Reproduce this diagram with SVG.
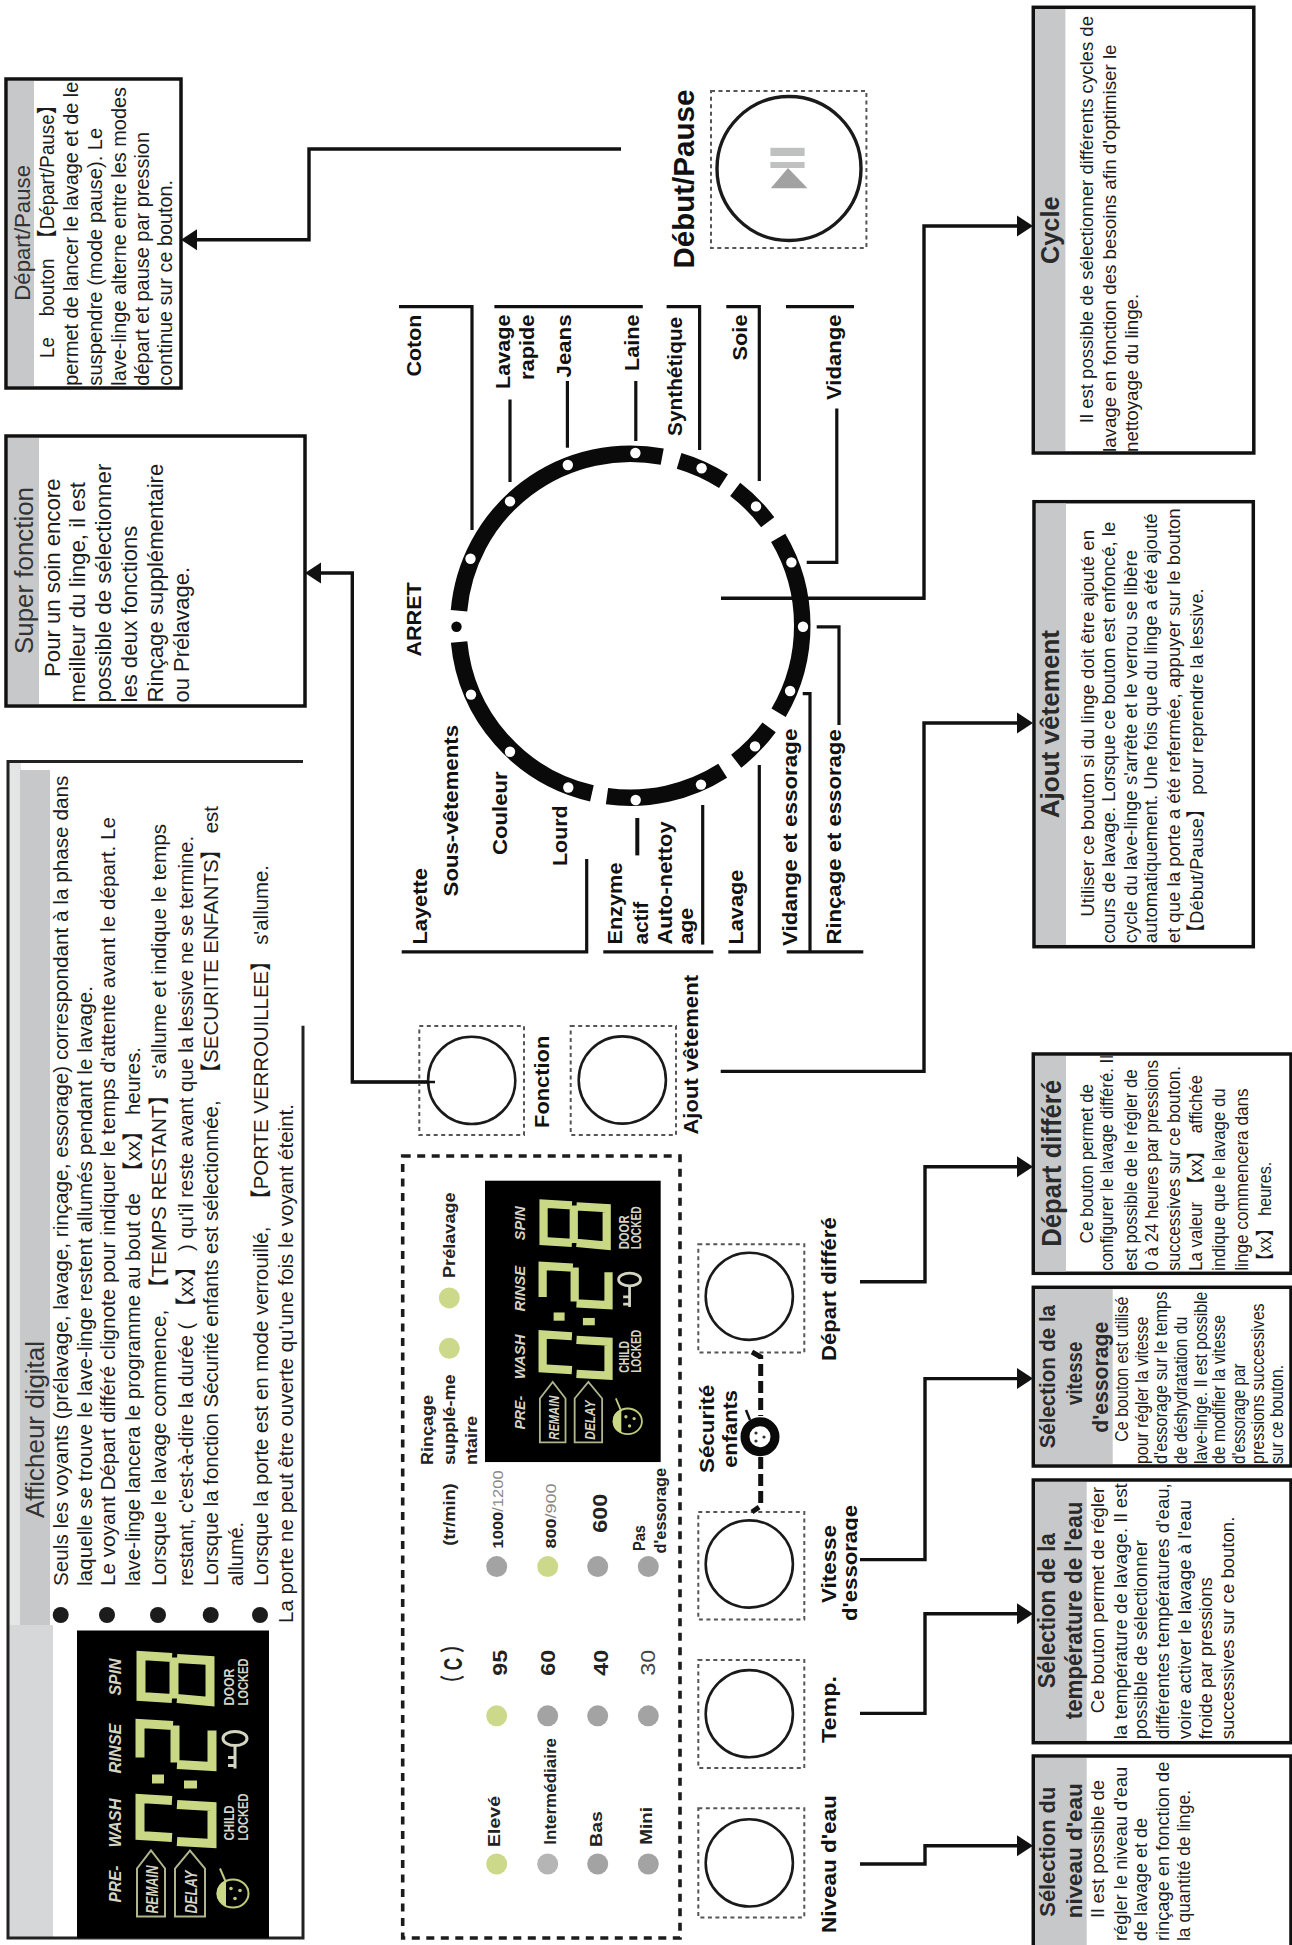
<svg xmlns="http://www.w3.org/2000/svg" width="1292" height="1945" viewBox="0 0 1292 1945">
<style>
text{font-family:"Liberation Sans","Noto Sans CJK SC",sans-serif;fill:#1c1c1c}
.box{fill:#fff;stroke:#111;stroke-width:3.5}
.hd{fill:#c6c8ca}
.ttl{font-weight:700;font-size:26px;fill:#2a2a2a}
.reg{font-size:26px;fill:#333}
.lb{font-weight:700;font-size:21px;fill:#111}
.pl{font-weight:700;font-size:17px;fill:#222}
.bt{fill:none;stroke:#555;stroke-width:2;stroke-dasharray:4 3.5}
.ci{fill:#fff;stroke:#1a1a1a;stroke-width:2.6}
.ring{fill:none;stroke:#0a0a0a;stroke-width:16.5}
.dot{fill:#fff}
.ln{fill:none;stroke:#111;stroke-width:3.2}
.ar{fill:none;stroke:#111;stroke-width:3.4;marker-end:url(#ah)}
.g{fill:#cdd98a}
.o{fill:#a3a3a3}
.seg{fill:none;stroke:#c9d885;stroke-width:9}
.lc{fill:#d4d4c6;font-style:italic;font-weight:700;font-size:17px}
.lo{fill:#d4d4c6;font-size:15px;font-weight:700}
</style>
<defs>
<clipPath id="cut"><rect x="840" y="1490" width="18" height="140"/></clipPath>
<marker id="ah" markerUnits="userSpaceOnUse" markerWidth="18" markerHeight="24" refX="11" refY="12" orient="auto"><path d="M0 1.5L16 12L0 22.500z" fill="#111"/></marker>
<g id="lcd-art">
<path d="M95 27L64 25V66L95 68M97 27V68M100 28L133 30V71L100 68M63 127V93L96 95M98 95V132M100 134L135 136V100M95 170L63 168V205L95 207M100 174L135 176V213L100 211" class="seg"/>
<rect x="75" y="144" width="12" height="9" fill="#c9d885"/><rect x="107" y="150" width="13" height="8" fill="#c9d885"/>
<path d="M60 286V238L74 220L88 238V286ZM98 286V238L113 220L128 238V286Z" fill="none" stroke="#aeb68a" stroke-width="2"/>
<ellipse cx="158" cy="108" rx="12" ry="7" fill="none" stroke="#d4d4c0" stroke-width="3"/>
<path d="M158 115V138M151 127H158M151 135H158" fill="none" stroke="#d4d4c0" stroke-width="3"/>
<ellipse cx="156" cy="263" rx="15.500" ry="14" fill="#000" stroke="#bfcb7a" stroke-width="2"/>
<path d="M149 250A15 14 0 0 0 149 276Z" fill="#c9d885"/>
<path d="M143 238L149 252" stroke="#bfcb7a" stroke-width="2"/>
<circle cx="154" cy="258" r="1.800" fill="#bfcb7a"/><circle cx="163" cy="260" r="1.800" fill="#bfcb7a"/><circle cx="158" cy="268" r="1.800" fill="#bfcb7a"/>
</g>
</defs>
<rect width="1292" height="1945" fill="#fff"/>

<g id="connectors">
<path class="ar" d="M621 149H309V239.700H186"/>
<path class="ar" d="M435 1082H352.300V573H310"/>
<path class="ar" d="M721 598.300H924V226H1028"/>
<path class="ar" d="M720.700 1071.400H924V723H1028"/>
<path class="ar" d="M860 1281.700H925V1166.700H1028"/>
<path class="ar" d="M860 1559.600H925V1378.600H1028"/>
<path class="ar" d="M860 1713.400H925V1613.800H1028"/>
<path class="ar" d="M860 1864H925V1845.800H1028"/>
<path class="ln" d="M399 306.700H472V530"/>
<path class="ln" d="M494.400 306.700H642.800"/>
<path class="ln" d="M510 399.500V482"/>
<path class="ln" d="M567.400 381V447.700"/>
<path class="ln" d="M635.800 381V441"/>
<path class="ln" d="M666.600 306.700H699.600V450"/>
<path class="ln" d="M726.300 306.700H759.300V481"/>
<path class="ln" d="M786 306.700H854"/>
<path class="ln" d="M836.800 408.600V562.400H806.700"/>
<path class="ln" d="M816.700 626.800H839V725"/>
<path class="ln" d="M802.700 693.600H810V951.800"/>
<path class="ln" d="M786.700 951.800H863.300"/>
<path class="ln" d="M759.300 765V951.800H728.300"/>
<path class="ln" d="M603.300 951.800H713.300"/>
<path class="ln" d="M702.700 805V944.600"/>
<path class="ln" style="stroke-width:4" d="M637.300 818V855.400"/>
<path class="ln" d="M586.700 859V951.800H401.700"/>
</g>

<g id="box-depart-pause">
<rect class="box" x="6" y="79" width="175" height="309"/>
<rect class="hd" x="8" y="81" width="26" height="305"/>
<text class="reg" style="font-size:22px" transform="translate(30 300.700) rotate(-90)" textLength="135.700" lengthAdjust="spacingAndGlyphs">Départ/Pause</text>
<g style="font-size:20.500px">
<text transform="translate(53.500 358) rotate(-90)" textLength="262.500" lengthAdjust="spacingAndGlyphs">Le&#160;&#160;&#160;&#160;bouton&#160;&#160;【Départ/Pause】</text>
<text transform="translate(78.300 385.700) rotate(-90)" textLength="304" lengthAdjust="spacingAndGlyphs">permet de lancer le lavage et de le</text>
<text transform="translate(102 385.700) rotate(-90)" textLength="258" lengthAdjust="spacingAndGlyphs">suspendre (mode pause). Le</text>
<text transform="translate(125.700 385.700) rotate(-90)" textLength="298.700" lengthAdjust="spacingAndGlyphs">lave-linge alterne entre les modes</text>
<text transform="translate(149 385.700) rotate(-90)" textLength="253.700" lengthAdjust="spacingAndGlyphs">départ et pause par pression</text>
<text transform="translate(172 385.700) rotate(-90)" textLength="205.700" lengthAdjust="spacingAndGlyphs">continue sur ce bouton.</text>
</g>
</g>

<g id="box-super-fonction">
<rect class="box" x="6" y="436" width="299" height="270"/>
<rect class="hd" x="8" y="438" width="31" height="266"/>
<text class="reg" transform="translate(33 654) rotate(-90)" textLength="167" lengthAdjust="spacingAndGlyphs">Super fonction</text>
<g style="font-size:22px">
<text transform="translate(59.700 677) rotate(-90)" textLength="198.500" lengthAdjust="spacingAndGlyphs">Pour un soin encore</text>
<text transform="translate(85 702.500) rotate(-90)" textLength="220.500" lengthAdjust="spacingAndGlyphs">meilleur du linge, il est</text>
<text transform="translate(111 702.500) rotate(-90)" textLength="238.800" lengthAdjust="spacingAndGlyphs">possible de sélectionner</text>
<text transform="translate(137 702.500) rotate(-90)" textLength="176.800" lengthAdjust="spacingAndGlyphs">les deux fonctions</text>
<text transform="translate(163 702.500) rotate(-90)" textLength="238.800" lengthAdjust="spacingAndGlyphs">Rinçage supplémentaire</text>
<text transform="translate(188.700 702.500) rotate(-90)" textLength="135.500" lengthAdjust="spacingAndGlyphs">ou Prélavage.</text>
</g>
</g>

<g id="box-afficheur">
<rect x="8" y="762" width="13" height="863" fill="#e4e5e5"/>
<rect class="hd" x="20" y="770" width="30" height="855"/>
<rect x="8" y="1625" width="45" height="313" fill="#d6d7d8"/>
<path d="M303 1025.700V1938H8V761.400H303" fill="none" stroke="#222" stroke-width="3"/>
<text class="reg" transform="translate(44 1518) rotate(-90)" textLength="177" lengthAdjust="spacingAndGlyphs">Afficheur digital</text>
<g fill="#1c1c1c"><ellipse cx="60.700" cy="1615" rx="8" ry="8"/><ellipse cx="107" cy="1615" rx="8" ry="8"/><ellipse cx="158" cy="1615" rx="8" ry="8"/><ellipse cx="210.700" cy="1615" rx="8" ry="8"/><ellipse cx="260" cy="1615" rx="8" ry="8"/></g>
<g style="font-size:21px">
<text transform="translate(68.300 1586) rotate(-90)" textLength="810.300" lengthAdjust="spacingAndGlyphs">Seuls les voyants (prélavage, lavage, rinçage, essorage) correspondant à la phase dans</text>
<text transform="translate(91.700 1586) rotate(-90)" textLength="600" lengthAdjust="spacingAndGlyphs">laquelle se trouve le lave-linge restent allumés pendant le lavage.</text>
<text transform="translate(115 1586) rotate(-90)" textLength="769" lengthAdjust="spacingAndGlyphs">Le voyant Départ différé clignote pour indiquer le temps d'attente avant le départ. Le</text>
<text transform="translate(140 1586) rotate(-90)" textLength="539" lengthAdjust="spacingAndGlyphs">lave-linge lancera le programme au bout de&#160;&#160;【xx】 heures.</text>
<text transform="translate(165.700 1586) rotate(-90)" textLength="762" lengthAdjust="spacingAndGlyphs">Lorsque le lavage commence,&#160;&#160;【TEMPS RESTANT】 s'allume et indique le temps</text>
<text transform="translate(193 1586) rotate(-90)" textLength="750" lengthAdjust="spacingAndGlyphs">restant, c'est-à-dire la durée ( 【xx】 ) qu'il reste avant que la lessive ne se termine.</text>
<text transform="translate(218 1586) rotate(-90)" textLength="780" lengthAdjust="spacingAndGlyphs">Lorsque la fonction Sécurité enfants est sélectionnée,&#160;&#160;&#160;【SECURITE ENFANTS】 est</text>
<text transform="translate(243 1586) rotate(-90)" textLength="64" lengthAdjust="spacingAndGlyphs">allumé.</text>
<text transform="translate(267.700 1586) rotate(-90)" textLength="721" lengthAdjust="spacingAndGlyphs">Lorsque la porte est en mode verrouillé,&#160;&#160;&#160;【PORTE VERROUILLEE】 s'allume.</text>
<text transform="translate(292.700 1623) rotate(-90)" textLength="519" lengthAdjust="spacingAndGlyphs">La porte ne peut être ouverte qu'une fois le voyant éteint.</text>
</g>
<g id="lcd-a" transform="translate(77 1630.500)">
<rect width="192" height="307.500" fill="#000"/>
<use href="#lcd-art"/>
<text class="lc" transform="translate(44 65) rotate(-90)" textLength="37" lengthAdjust="spacingAndGlyphs">SPIN</text>
<text class="lc" transform="translate(44 143) rotate(-90)" textLength="50" lengthAdjust="spacingAndGlyphs">RINSE</text>
<text class="lc" transform="translate(44 217) rotate(-90)" textLength="49" lengthAdjust="spacingAndGlyphs">WASH</text>
<text class="lc" transform="translate(44 272) rotate(-90)" textLength="37" lengthAdjust="spacingAndGlyphs">PRE-</text>
<text class="lc" transform="translate(81 283) rotate(-90)" textLength="48" lengthAdjust="spacingAndGlyphs">REMAIN</text>
<text class="lc" transform="translate(120 283) rotate(-90)" textLength="43" lengthAdjust="spacingAndGlyphs">DELAY</text>
<text class="lo" transform="translate(157 75) rotate(-90)" textLength="37" lengthAdjust="spacingAndGlyphs">DOOR</text>
<text class="lo" transform="translate(171 75) rotate(-90)" textLength="47" lengthAdjust="spacingAndGlyphs">LOCKED</text>
<text class="lo" transform="translate(157 210) rotate(-90)" textLength="35" lengthAdjust="spacingAndGlyphs">CHILD</text>
<text class="lo" transform="translate(171 210) rotate(-90)" textLength="47" lengthAdjust="spacingAndGlyphs">LOCKED</text>
</g>
</g>

<g id="dial">
<path class="ring" d="M459 610.700A172 172 0 0 1 662.200 456.700"/>
<path class="ring" d="M679.100 460.800A172 172 0 0 1 723.500 481.100"/>
<path class="ring" d="M735.200 489.400A172 172 0 0 1 767.700 522.200"/>
<path class="ring" d="M778.200 537.900A172 172 0 0 1 778.600 712.700"/>
<path class="ring" d="M769.100 727.300A172 172 0 0 1 736.200 761.200"/>
<path class="ring" d="M722.700 770.800A172 172 0 0 1 607 796.100"/>
<path class="ring" d="M591.900 793.400A172 172 0 0 1 459.100 641.900"/>
<circle cx="456.500" cy="626.700" r="5.200" fill="#0a0a0a"/>
<g class="dot">
<circle cx="470.500" cy="558.800" r="5.200"/><circle cx="510" cy="501.400" r="5.200"/><circle cx="567.800" cy="465" r="5.200"/><circle cx="635.400" cy="453" r="5.200"/><circle cx="701.600" cy="468.300" r="5.200"/><circle cx="756" cy="506.400" r="5.200"/><circle cx="791.400" cy="562.400" r="5.200"/><circle cx="803" cy="626.700" r="5.200"/><circle cx="790.100" cy="691" r="5.200"/><circle cx="755" cy="746.400" r="5.200"/><circle cx="701" cy="784.600" r="5.200"/><circle cx="635.700" cy="800" r="5.200"/><circle cx="568.300" cy="787.500" r="5.200"/><circle cx="510" cy="751.800" r="5.200"/><circle cx="471" cy="694.600" r="5.200"/>
</g>
<g>
<text class="lb" transform="translate(421 376.500) rotate(-90)" textLength="62" lengthAdjust="spacingAndGlyphs">Coton</text>
<text class="lb" transform="translate(510 389) rotate(-90)" textLength="74.500" lengthAdjust="spacingAndGlyphs">Lavage</text>
<text class="lb" transform="translate(533.600 380) rotate(-90)" textLength="65.500" lengthAdjust="spacingAndGlyphs">rapide</text>
<text class="lb" transform="translate(570.700 377.400) rotate(-90)" textLength="62.900" lengthAdjust="spacingAndGlyphs">Jeans</text>
<text class="lb" transform="translate(638.700 371) rotate(-90)" textLength="56.500" lengthAdjust="spacingAndGlyphs">Laine</text>
<text class="lb" transform="translate(682 436) rotate(-90)" textLength="119.200" lengthAdjust="spacingAndGlyphs">Synthétique</text>
<text class="lb" transform="translate(747 360.400) rotate(-90)" textLength="45.900" lengthAdjust="spacingAndGlyphs">Soie</text>
<text class="lb" transform="translate(840.500 400) rotate(-90)" textLength="85.500" lengthAdjust="spacingAndGlyphs">Vidange</text>
<text class="lb" transform="translate(421 656.600) rotate(-90)" textLength="74.400" lengthAdjust="spacingAndGlyphs">ARRET</text>
<text class="lb" transform="translate(426.700 944.600) rotate(-90)" textLength="76.600" lengthAdjust="spacingAndGlyphs">Layette</text>
<text class="lb" transform="translate(458.300 896.400) rotate(-90)" textLength="171.400" lengthAdjust="spacingAndGlyphs">Sous-vêtements</text>
<text class="lb" transform="translate(507.300 855) rotate(-90)" textLength="83.600" lengthAdjust="spacingAndGlyphs">Couleur</text>
<text class="lb" transform="translate(567.300 866) rotate(-90)" textLength="60.600" lengthAdjust="spacingAndGlyphs">Lourd</text>
<text class="lb" transform="translate(621.700 944.600) rotate(-90)" textLength="82.100" lengthAdjust="spacingAndGlyphs">Enzyme</text>
<text class="lb" transform="translate(648.300 944.600) rotate(-90)" textLength="42.800" lengthAdjust="spacingAndGlyphs">actif</text>
<text class="lb" transform="translate(671.700 944.600) rotate(-90)" textLength="123.200" lengthAdjust="spacingAndGlyphs">Auto-nettoy</text>
<text class="lb" transform="translate(693.300 944.600) rotate(-90)" textLength="36.700" lengthAdjust="spacingAndGlyphs">age</text>
<text class="lb" transform="translate(743.300 944.600) rotate(-90)" textLength="75" lengthAdjust="spacingAndGlyphs">Lavage</text>
<text class="lb" transform="translate(796.700 946) rotate(-90)" textLength="217.400" lengthAdjust="spacingAndGlyphs">Vidange et essorage</text>
<text class="lb" transform="translate(840.700 944.600) rotate(-90)" textLength="215.300" lengthAdjust="spacingAndGlyphs">Rinçage et essorage</text>
</g>
</g>

<g id="btn-debut-pause">
<rect class="bt" x="711" y="91" width="155.400" height="157"/>
<circle class="ci" style="stroke-width:3.400" cx="789" cy="168.500" r="72"/>
<rect x="770.400" y="147.800" width="34.200" height="8.200" fill="#bfc0c0"/>
<rect x="770.400" y="162" width="34.200" height="6" fill="#bfc0c0"/>
<path d="M788 168L807.500 188.200H770.800Z" fill="#a2a2a2"/>
<text class="lb" style="font-size:29px" transform="translate(694 268.600) rotate(-90)" textLength="179" lengthAdjust="spacingAndGlyphs">Début/Pause</text>
</g>

<g id="box-cycle">
<rect class="box" x="1033.300" y="7.300" width="220.500" height="445.700"/>
<rect class="hd" x="1035" y="9" width="30.400" height="442"/>
<text class="ttl" transform="translate(1059 264) rotate(-90)" textLength="67.500" lengthAdjust="spacingAndGlyphs">Cycle</text>
<g style="font-size:18.500px">
<text transform="translate(1093 423.300) rotate(-90)" textLength="407.300" lengthAdjust="spacingAndGlyphs">Il est possible de sélectionner différents cycles de</text>
<text transform="translate(1115.700 452) rotate(-90)" textLength="407.500" lengthAdjust="spacingAndGlyphs">lavage en fonction des besoins afin d'optimiser le</text>
<text transform="translate(1137.500 452) rotate(-90)" textLength="158.200" lengthAdjust="spacingAndGlyphs">nettoyage du linge.</text>
</g>
</g>

<g id="box-ajout">
<rect class="box" x="1034" y="501.700" width="219.300" height="445"/>
<rect class="hd" x="1036" y="503.500" width="30" height="441.500"/>
<text class="ttl" transform="translate(1059.300 818.300) rotate(-90)" textLength="188.300" lengthAdjust="spacingAndGlyphs">Ajout vêtement</text>
<g style="font-size:19px">
<text transform="translate(1094 916.700) rotate(-90)" textLength="386.700" lengthAdjust="spacingAndGlyphs">Utiliser ce bouton si du linge doit être ajouté en</text>
<text transform="translate(1115 943.300) rotate(-90)" textLength="421.600" lengthAdjust="spacingAndGlyphs">cours de lavage. Lorsque ce bouton est enfoncé, le</text>
<text transform="translate(1136.700 943.300) rotate(-90)" textLength="393.300" lengthAdjust="spacingAndGlyphs">cycle du lave-linge s'arrête et le verrou se libère</text>
<text transform="translate(1157.300 943.300) rotate(-90)" textLength="430" lengthAdjust="spacingAndGlyphs">automatiquement. Une fois que du linge a été ajouté</text>
<text transform="translate(1180 943.300) rotate(-90)" textLength="435" lengthAdjust="spacingAndGlyphs">et que la porte a été refermée, appuyer sur le bouton</text>
<text transform="translate(1203.300 942) rotate(-90)" textLength="353.700" lengthAdjust="spacingAndGlyphs">【Début/Pause】 pour reprendre la lessive.</text>
</g>
</g>

<g id="box-depart-differe">
<rect class="box" x="1033.300" y="1054" width="257.700" height="219.300"/>
<rect class="hd" x="1035" y="1056" width="31" height="215.500"/>
<text class="ttl" style="font-size:27px" transform="translate(1060.700 1246.700) rotate(-90)" textLength="166.700" lengthAdjust="spacingAndGlyphs">Départ différé</text>
<g style="font-size:18.500px">
<text transform="translate(1093.300 1243.300) rotate(-90)" textLength="159.300" lengthAdjust="spacingAndGlyphs">Ce bouton permet de</text>
<text transform="translate(1113.300 1270.700) rotate(-90)" textLength="215.700" lengthAdjust="spacingAndGlyphs">configurer le lavage différé. Il</text>
<text transform="translate(1136.700 1270.700) rotate(-90)" textLength="201.400" lengthAdjust="spacingAndGlyphs">est possible de le régler de</text>
<text transform="translate(1158.300 1270.700) rotate(-90)" textLength="210.700" lengthAdjust="spacingAndGlyphs">0 à 24 heures par pressions</text>
<text transform="translate(1180 1270.700) rotate(-90)" textLength="204.700" lengthAdjust="spacingAndGlyphs">successives sur ce bouton.</text>
<text transform="translate(1201.700 1270.700) rotate(-90)" textLength="195.700" lengthAdjust="spacingAndGlyphs">La valeur&#160;&#160;【xx】&#160;&#160;affichée</text>
<text transform="translate(1225 1270.700) rotate(-90)" textLength="182.400" lengthAdjust="spacingAndGlyphs">indique que le lavage du</text>
<text transform="translate(1248.300 1270.700) rotate(-90)" textLength="182.400" lengthAdjust="spacingAndGlyphs">linge commencera dans</text>
<text transform="translate(1270.700 1269) rotate(-90)" textLength="107.300" lengthAdjust="spacingAndGlyphs">【xx】 heures.</text>
</g>
</g>

<g id="box-vitesse">
<rect class="box" x="1033.300" y="1287.300" width="257.700" height="178.700"/>
<rect class="hd" x="1035" y="1289" width="77.700" height="175"/>
<g style="font-size:21.500px">
<text style="font-weight:700;fill:#2a2a2a" transform="translate(1055 1448.300) rotate(-90)" textLength="143.300" lengthAdjust="spacingAndGlyphs">Sélection de la</text>
<text style="font-weight:700;fill:#2a2a2a" transform="translate(1081.700 1405) rotate(-90)" textLength="63.300" lengthAdjust="spacingAndGlyphs">vitesse</text>
<text style="font-weight:700;fill:#2a2a2a" transform="translate(1108.300 1432.700) rotate(-90)" textLength="111" lengthAdjust="spacingAndGlyphs">d'essorage</text>
</g>
<g style="font-size:18px">
<text transform="translate(1128.300 1441.700) rotate(-90)" textLength="145" lengthAdjust="spacingAndGlyphs">Ce bouton est utilisé</text>
<text transform="translate(1148.300 1464) rotate(-90)" textLength="147.300" lengthAdjust="spacingAndGlyphs">pour régler la vitesse</text>
<text transform="translate(1167.300 1464) rotate(-90)" textLength="172.300" lengthAdjust="spacingAndGlyphs">d'essorage sur le temps</text>
<text transform="translate(1187.300 1464) rotate(-90)" textLength="147.300" lengthAdjust="spacingAndGlyphs">de déshydratation du</text>
<text transform="translate(1206.700 1464) rotate(-90)" textLength="172.300" lengthAdjust="spacingAndGlyphs">lave-linge. Il est possible</text>
<text transform="translate(1225 1464) rotate(-90)" textLength="149" lengthAdjust="spacingAndGlyphs">de modifier la vitesse</text>
<text transform="translate(1245 1464) rotate(-90)" textLength="100.700" lengthAdjust="spacingAndGlyphs">d'essorage par</text>
<text transform="translate(1264 1464) rotate(-90)" textLength="160.700" lengthAdjust="spacingAndGlyphs">pressions successives</text>
<text transform="translate(1283.300 1464) rotate(-90)" textLength="99" lengthAdjust="spacingAndGlyphs">sur ce bouton.</text>
</g>
</g>

<g id="box-temperature">
<rect class="box" x="1033.300" y="1480" width="257.700" height="262.700"/>
<rect class="hd" x="1035" y="1482" width="51.700" height="259"/>
<g style="font-size:23px">
<text style="font-weight:700;fill:#2a2a2a" transform="translate(1055 1688.300) rotate(-90)" textLength="155" lengthAdjust="spacingAndGlyphs">Sélection de la</text>
<text style="font-weight:700;fill:#2a2a2a" transform="translate(1081.700 1719.300) rotate(-90)" textLength="217.600" lengthAdjust="spacingAndGlyphs">température de l'eau</text>
</g>
<g style="font-size:19px">
<text transform="translate(1104.300 1713.300) rotate(-90)" textLength="226.600" lengthAdjust="spacingAndGlyphs">Ce bouton permet de régler</text>
<text transform="translate(1126.700 1739.300) rotate(-90)" textLength="256" lengthAdjust="spacingAndGlyphs">la température de lavage. Il est</text>
<text transform="translate(1146.700 1739.300) rotate(-90)" textLength="199.300" lengthAdjust="spacingAndGlyphs">possible de sélectionner</text>
<text transform="translate(1169 1739.300) rotate(-90)" textLength="256" lengthAdjust="spacingAndGlyphs">différentes températures d'eau,</text>
<text transform="translate(1191 1739.300) rotate(-90)" textLength="239.300" lengthAdjust="spacingAndGlyphs">voire activer le lavage à l'eau</text>
<text transform="translate(1211.700 1739.300) rotate(-90)" textLength="162" lengthAdjust="spacingAndGlyphs">froide par pressions</text>
<text transform="translate(1234.300 1739.300) rotate(-90)" textLength="222.600" lengthAdjust="spacingAndGlyphs">successives sur ce bouton.</text>
</g>
</g>

<g id="box-niveau">
<path d="M1033.300 1945V1756H1291V1945" fill="none" stroke="#111" stroke-width="3.500"/>
<rect class="hd" x="1035" y="1758" width="51.700" height="187"/>
<g style="font-size:22.500px">
<text style="font-weight:700;fill:#2a2a2a" transform="translate(1055 1916.700) rotate(-90)" textLength="130" lengthAdjust="spacingAndGlyphs">Sélection du</text>
<text style="font-weight:700;fill:#2a2a2a" transform="translate(1081.700 1918.300) rotate(-90)" textLength="135" lengthAdjust="spacingAndGlyphs">niveau d'eau</text>
</g>
<g style="font-size:19px">
<text transform="translate(1104.300 1918) rotate(-90)" textLength="138" lengthAdjust="spacingAndGlyphs">Il est possible de</text>
<text transform="translate(1126.700 1941) rotate(-90)" textLength="174.300" lengthAdjust="spacingAndGlyphs">régler le niveau d'eau</text>
<text transform="translate(1146.700 1941) rotate(-90)" textLength="123" lengthAdjust="spacingAndGlyphs">de lavage et de</text>
<text transform="translate(1169 1941) rotate(-90)" textLength="179.300" lengthAdjust="spacingAndGlyphs">rinçage en fonction de</text>
<text transform="translate(1190 1941) rotate(-90)" textLength="151" lengthAdjust="spacingAndGlyphs">la quantité de linge.</text>
</g>
</g>

<g id="btn-fonction">
<rect class="bt" x="419.300" y="1026" width="104.700" height="109"/>
<circle class="ci" cx="471.700" cy="1080.400" r="43.600"/>
<text class="lb" transform="translate(549.300 1127.900) rotate(-90)" textLength="92.200" lengthAdjust="spacingAndGlyphs">Fonction</text>
</g>
<g id="btn-ajout">
<rect class="bt" x="570.700" y="1026" width="105.300" height="109"/>
<circle class="ci" cx="622.300" cy="1080" r="43.600"/>
<text class="lb" transform="translate(698.300 1134.600) rotate(-90)" textLength="159.600" lengthAdjust="spacingAndGlyphs">Ajout vêtement</text>
</g>
<path class="ln" style="stroke-width:2.600" d="M435 1082H352.300"/>

<g id="panel">
<rect x="402.700" y="1156" width="277.300" height="782" fill="none" stroke="#1c1c1c" stroke-width="3.600" stroke-dasharray="8 6.500"/>
<text class="pl" transform="translate(433.300 1465) rotate(-90)" textLength="70" lengthAdjust="spacingAndGlyphs">Rinçage</text>
<text class="pl" transform="translate(455 1465) rotate(-90)" textLength="90.700" lengthAdjust="spacingAndGlyphs">supplé-me</text>
<text class="pl" transform="translate(476.700 1465) rotate(-90)" textLength="49.100" lengthAdjust="spacingAndGlyphs">ntaire</text>
<text class="pl" transform="translate(455 1278) rotate(-90)" textLength="85.600" lengthAdjust="spacingAndGlyphs">Prélavage</text>
<text class="pl" transform="translate(455 1545.800) rotate(-90)" textLength="62.400" lengthAdjust="spacingAndGlyphs">(tr/min)</text>
<text class="pl" style="font-size:25px" transform="translate(461.700 1692) rotate(-90)" textLength="56" lengthAdjust="spacingAndGlyphs">（ C ）</text>
<text class="pl" transform="translate(500 1847) rotate(-90)" textLength="51" lengthAdjust="spacingAndGlyphs">Elevé</text>
<text class="pl" transform="translate(556 1844.700) rotate(-90)" textLength="106.700" lengthAdjust="spacingAndGlyphs">Intermédiaire</text>
<text class="pl" transform="translate(601.700 1847) rotate(-90)" textLength="36" lengthAdjust="spacingAndGlyphs">Bas</text>
<text class="pl" transform="translate(651.700 1844.700) rotate(-90)" textLength="37.700" lengthAdjust="spacingAndGlyphs">Mini</text>
<text class="pl" style="font-size:20px" transform="translate(507.300 1675.700) rotate(-90)" textLength="25.900" lengthAdjust="spacingAndGlyphs">95</text>
<text class="pl" style="font-size:20px" transform="translate(555 1675.700) rotate(-90)" textLength="25.900" lengthAdjust="spacingAndGlyphs">60</text>
<text class="pl" style="font-size:20px" transform="translate(608 1675.700) rotate(-90)" textLength="25.900" lengthAdjust="spacingAndGlyphs">40</text>
<text style="font-size:20px;fill:#444" transform="translate(655 1675.700) rotate(-90)" textLength="25.900" lengthAdjust="spacingAndGlyphs">30</text>
<text class="pl" style="font-size:14px" transform="translate(502.700 1548.400) rotate(-90)" textLength="78" lengthAdjust="spacingAndGlyphs">1000<tspan style="fill:#888;font-weight:400">/1200</tspan></text>
<text class="pl" style="font-size:14px" transform="translate(555.700 1548.400) rotate(-90)" textLength="65" lengthAdjust="spacingAndGlyphs">800<tspan style="fill:#888;font-weight:400">/900</tspan></text>
<text class="pl" style="font-size:20px" transform="translate(606.700 1532.800) rotate(-90)" textLength="39" lengthAdjust="spacingAndGlyphs">600</text>
<text class="pl" transform="translate(645 1551) rotate(-90)" textLength="26" lengthAdjust="spacingAndGlyphs">Pas</text>
<text class="pl" transform="translate(666 1553.600) rotate(-90)" textLength="85.800" lengthAdjust="spacingAndGlyphs">d'essorage</text>
<g>
<circle class="g" cx="449.300" cy="1297.900" r="10.500"/><circle class="g" cx="449.300" cy="1348.300" r="10.500"/>
<circle class="g" cx="496.700" cy="1864" r="10.500"/><circle cx="547.700" cy="1864" r="10.500" fill="#b5b5b5"/><circle class="o" cx="597.700" cy="1864" r="10.500"/><circle class="o" cx="648.300" cy="1864" r="10.500"/>
<circle class="g" cx="496.700" cy="1715.800" r="10.500"/><circle class="o" cx="547.700" cy="1715.800" r="10.500"/><circle class="o" cx="597.700" cy="1715.800" r="10.500"/><circle class="o" cx="648.300" cy="1715.800" r="10.500"/>
<circle class="o" cx="496.700" cy="1566.600" r="10.500"/><circle class="g" cx="547.700" cy="1566.600" r="10.500"/><circle class="o" cx="597.700" cy="1566.600" r="10.500"/><circle class="o" cx="648.300" cy="1566.600" r="10.500"/>
</g>
<g id="lcd-b" transform="translate(485 1180.700) scale(.915)">
<rect width="192" height="307.500" fill="#000"/>
<use href="#lcd-art"/>
<text class="lc" transform="translate(44 65) rotate(-90)" textLength="37" lengthAdjust="spacingAndGlyphs">SPIN</text>
<text class="lc" transform="translate(44 143) rotate(-90)" textLength="50" lengthAdjust="spacingAndGlyphs">RINSE</text>
<text class="lc" transform="translate(44 217) rotate(-90)" textLength="49" lengthAdjust="spacingAndGlyphs">WASH</text>
<text class="lc" transform="translate(44 272) rotate(-90)" textLength="37" lengthAdjust="spacingAndGlyphs">PRE-</text>
<text class="lc" transform="translate(81 283) rotate(-90)" textLength="48" lengthAdjust="spacingAndGlyphs">REMAIN</text>
<text class="lc" transform="translate(120 283) rotate(-90)" textLength="43" lengthAdjust="spacingAndGlyphs">DELAY</text>
<text class="lo" transform="translate(157 75) rotate(-90)" textLength="37" lengthAdjust="spacingAndGlyphs">DOOR</text>
<text class="lo" transform="translate(171 75) rotate(-90)" textLength="47" lengthAdjust="spacingAndGlyphs">LOCKED</text>
<text class="lo" transform="translate(157 210) rotate(-90)" textLength="35" lengthAdjust="spacingAndGlyphs">CHILD</text>
<text class="lo" transform="translate(171 210) rotate(-90)" textLength="47" lengthAdjust="spacingAndGlyphs">LOCKED</text>
</g>
</g>

<g id="btn-depart-differe">
<rect class="bt" x="698.300" y="1244.300" width="106" height="108.200"/>
<circle class="ci" cx="749.300" cy="1296.300" r="43.600"/>
<text class="lb" transform="translate(836 1361) rotate(-90)" textLength="143.700" lengthAdjust="spacingAndGlyphs">Départ différé</text>
</g>
<g id="btn-vitesse">
<rect class="bt" x="698.300" y="1512" width="106" height="107.600"/>
<circle class="ci" cx="749.300" cy="1564" r="43.600"/>
<text class="lb" transform="translate(836 1603) rotate(-90)" textLength="78" lengthAdjust="spacingAndGlyphs">Vitesse</text>
<g clip-path="url(#cut)"><text class="lb" transform="translate(856.700 1621) rotate(-90)" textLength="116" lengthAdjust="spacingAndGlyphs">d'essorage</text></g>
</g>
<g id="btn-temp">
<rect class="bt" x="698.300" y="1660" width="106" height="108"/>
<circle class="ci" cx="749.300" cy="1713.700" r="43.600"/>
<text class="lb" transform="translate(836 1743) rotate(-90)" textLength="67" lengthAdjust="spacingAndGlyphs">Temp.</text>
</g>
<g id="btn-niveau">
<rect class="bt" x="698.300" y="1808.300" width="106" height="109.100"/>
<circle class="ci" cx="749.300" cy="1862.900" r="43.600"/>
<text class="lb" transform="translate(836 1933) rotate(-90)" textLength="137.700" lengthAdjust="spacingAndGlyphs">Niveau d'eau</text>
</g>
<g id="child-lock">
<path d="M752 1352L760.700 1357V1416M760.700 1457V1506L752 1512" fill="none" stroke="#111" stroke-width="5" stroke-dasharray="12 5"/>
<circle cx="760" cy="1436.700" r="15" fill="#fff" stroke="#0a0a0a" stroke-width="9"/>
<path d="M746 1410L750 1420" stroke="#111" stroke-width="2.500"/>
<circle cx="756" cy="1433" r="1.600" fill="#333"/><circle cx="764" cy="1437" r="1.600" fill="#333"/><circle cx="756" cy="1441" r="1.600" fill="#333"/>
<text class="lb" transform="translate(714 1473) rotate(-90)" textLength="88.300" lengthAdjust="spacingAndGlyphs">Sécurité</text>
<text class="lb" transform="translate(736.700 1467.800) rotate(-90)" textLength="77.800" lengthAdjust="spacingAndGlyphs">enfants</text>
</g>
</svg>
